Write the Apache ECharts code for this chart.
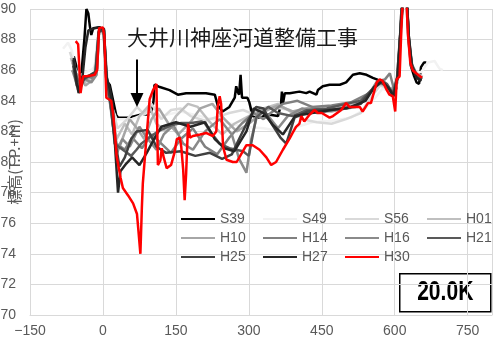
<!DOCTYPE html>
<html>
<head>
<meta charset="utf-8">
<script src="https://cdn.jsdelivr.net/npm/echarts@6/dist/echarts.min.js"></script>
<style>
  html, body { margin: 0; padding: 0; background: #fff; }
  #chart { width: 500px; height: 347px; }
</style>
</head>
<body>
<div id="chart"></div>
<script>
// survey years (legend order)
const seriesNames = ['S39', 'S49', 'S56', 'H01', 'H10', 'H14', 'H16', 'H21', 'H25', 'H27', 'H30']
const seriesColors = ['#000000', '#f2f2f2', '#d9d9d9', '#bfbfbf', '#a6a6a6', '#808080', '#8a8a8a', '#595959', '#404040', '#262626', '#ff0000']

// cross sections: [distance (m), elevation (T.P.+m)]
const s39 = [[-60,86.9],[-55,86.3],[-51,84.7],[-44,85.9],[-38,88.1],[-34,90.0],[-30,89.7],[-27,88.9],[-24,88.3],[-20,88.75],[-7,88.8],[2,88.6],[7,85.3],[14,85.05],[21,84.0],[27,83.1],[31,82.9],[51,82.9],[65,83.0],[79,83.1],[92,83.1],[99,83.2],[102,83.6],[104,84.0],[106,85.05],[117,84.9],[137,84.7],[154,84.4],[171,84.5],[190,84.5],[212,84.5],[230,84.4],[236,83.7],[246,83.3],[260,83.6],[271,84.2],[274,84.95],[277,84.6],[280,84.4],[283,85.7],[286,84.2],[288,84.3],[297,84.2],[301,83.9],[308,83.0],[320,82.9],[340,83.1],[360,83.0],[366,83.75],[368,84.6],[370,83.8],[374,84.5],[384,84.5],[404,84.6],[418,84.5],[425,84.6],[439,84.4],[442,84.7],[452,84.95],[466,85.05],[487,85.05],[500,85.2],[514,85.7],[528,85.8],[542,85.7],[555,85.5],[563,85.4],[575,85.15],[585,84.7],[595,84.3],[603,84.8],[608,86.0],[613,89.5],[617,91.5],[624,91.5],[628,88.5],[633,86.3],[640,85.6],[645,85.2],[650,85.1],[654,86.2],[660,86.5],[665,86.5]]
const s49 = [[-82,87.4],[-72,87.8],[-64,87.3],[-58,86.2],[-50,85.6],[-40,85.8],[-25,86.0],[-14,86.3],[-9,88.4],[0,88.6],[5,87.5],[10,85.0],[18,83.6],[28,82.8],[60,82.8],[90,83.2],[120,83.0],[160,83.3],[200,83.0],[250,82.6],[290,82.3],[330,82.2],[370,82.0],[400,82.3],[430,82.6],[470,82.7],[510,82.9],[540,83.5],[560,84.2],[575,84.8],[590,84.6],[600,84.4],[606,85.4],[612,88.0],[618,90.8],[624,90.6],[629,87.8],[635,86.4],[645,85.8],[655,85.9],[668,86.5],[682,86.6],[692,86.1],[699,86.0]]
const s56 = [[-68,87.2],[-60,86.4],[-52,85.3],[-42,85.5],[-30,85.4],[-18,85.9],[-10,88.3],[0,88.5],[6,86.5],[12,84.4],[20,83.5],[30,82.2],[50,82.8],[70,83.6],[85,83.1],[100,83.8],[120,82.8],[140,83.4],[160,83.5],[180,83.0],[210,82.7],[240,83.0],[260,83.2],[288,83.4],[320,83.0],[349,83.6],[384,83.4],[410,82.8],[440,82.6],[470,82.5],[500,82.8],[530,83.2],[555,84.4],[570,85.0],[588,84.8],[600,84.5],[607,85.6],[613,88.5],[619,90.8],[625,90.5],[630,87.5],[637,86.2],[648,85.7],[658,85.6]]
const h01 = [[-66,86.8],[-58,86.0],[-50,85.0],[-38,85.2],[-25,85.5],[-15,85.8],[-9,88.5],[1,88.6],[6,86.0],[12,84.3],[20,83.2],[28,81.5],[45,82.5],[60,81.8],[75,83.0],[95,83.7],[110,82.5],[130,82.0],[150,83.0],[175,83.8],[195,83.6],[220,82.6],[245,81.8],[270,82.5],[300,83.0],[330,83.5],[360,83.8],[390,83.2],[420,83.5],[450,83.3],[480,83.6],[520,83.8],[550,84.6],[566,85.1],[580,85.0],[595,84.6],[605,85.5],[612,88.2],[618,91.0],[624,90.8],[629,87.6],[636,86.2],[646,85.6],[656,85.4]]
const h10 = [[-64,86.0],[-56,85.8],[-48,85.6],[-36,85.0],[-24,85.3],[-13,85.9],[-8,88.6],[1,88.7],[7,85.6],[13,84.2],[20,82.5],[28,80.8],[40,81.5],[55,82.8],[70,82.2],[85,81.5],[100,82.8],[115,83.5],[135,82.5],[155,81.8],[180,82.6],[200,83.5],[225,83.8],[250,82.8],[275,82.0],[300,82.5],[330,83.3],[360,83.7],[390,83.3],[430,83.6],[470,83.3],[510,83.6],[545,84.3],[562,85.2],[578,85.3],[592,84.7],[604,85.3],[611,88.0],[617,91.0],[623,91.0],[628,88.0],[634,86.4],[644,85.7],[657,85.5]]
const h14 = [[-62,86.5],[-54,85.4],[-44,85.2],[-34,85.6],[-22,85.5],[-12,86.1],[-8,88.5],[2,88.6],[7,85.2],[14,84.0],[21,82.6],[28,81.2],[45,80.8],[60,81.6],[80,80.9],[100,81.8],[120,81.2],[140,80.6],[160,81.5],[185,82.2],[210,81.0],[235,80.5],[260,81.6],[285,82.5],[310,83.2],[330,82.8],[345,83.2],[370,83.8],[400,84.0],[430,83.6],[470,83.7],[510,83.9],[548,84.5],[565,85.3],[580,85.4],[590,85.8],[598,84.8],[606,85.4],[612,88.5],[618,91.0],[624,91.0],[629,87.8],[635,86.3],[645,85.6],[656,85.5]]
const h16 = [[-63,86.0],[-55,85.2],[-46,85.5],[-36,85.4],[-24,85.2],[-13,85.7],[-8,88.6],[2,88.7],[8,85.0],[15,83.9],[22,82.0],[28,80.5],[40,81.5],[55,81.0],[75,82.3],[90,81.6],[110,80.8],[125,81.8],[145,82.4],[165,81.2],[185,80.8],[210,82.0],[240,82.8],[265,81.8],[280,80.2],[295,79.3],[305,81.5],[320,83.4],[340,83.0],[360,82.2],[380,83.0],[410,83.5],[440,83.2],[480,83.4],[520,83.6],[552,84.6],[568,85.2],[582,85.0],[594,84.4],[604,85.2],[612,88.6],[618,91.0],[624,91.0],[629,87.9],[635,86.2],[646,85.6],[657,85.5]]
const h21 = [[-62,86.7],[-56,85.8],[-48,84.9],[-40,85.4],[-28,85.6],[-16,85.8],[-8,88.6],[2,88.6],[8,85.5],[16,84.2],[24,81.2],[45,80.7],[58,80.4],[69,80.8],[79,81.2],[95,81.6],[113,82.0],[140,82.4],[161,82.55],[182,82.55],[202,82.65],[209,82.55],[223,81.9],[240,81.2],[260,80.9],[288,80.7],[300,80.4],[315,82.9],[340,83.6],[360,83.2],[390,83.0],[420,83.4],[460,83.5],[500,83.8],[530,84.0],[555,84.8],[570,85.3],[584,85.1],[596,84.5],[605,85.5],[612,88.8],[618,91.0],[624,91.0],[629,88.0],[635,86.4],[645,85.7],[655,85.4]]
const h25 = [[-61,86.3],[-54,85.0],[-47,84.8],[-38,85.5],[-26,85.7],[-15,85.9],[-9,88.5],[1,88.7],[8,85.3],[15,84.0],[22,82.0],[34,79.7],[45,80.3],[58,81.5],[69,82.0],[92,82.1],[110,81.0],[130,80.6],[160,80.7],[190,80.4],[220,80.6],[245,80.2],[265,80.5],[280,81.5],[300,82.8],[315,83.6],[330,83.5],[345,82.6],[365,81.6],[377,81.2],[394,82.9],[420,83.3],[460,83.4],[500,83.5],[530,83.8],[556,84.8],[572,85.2],[586,84.9],[597,84.4],[606,85.6],[613,89.0],[618,91.0],[624,91.0],[629,88.2],[636,86.2],[646,85.5],[656,85.4]]
const h27 = [[-60,86.8],[-54,85.2],[-50,84.5],[-42,85.6],[-36,87.5],[-30,88.6],[-22,88.7],[-8,88.8],[2,88.7],[7,85.6],[14,84.8],[20,83.8],[26,80.5],[31,78.0],[36,79.4],[48,79.9],[60,80.3],[75,79.8],[90,80.6],[105,81.5],[120,82.3],[150,82.6],[180,82.3],[210,82.6],[230,81.5],[250,80.9],[270,80.7],[295,82.0],[310,83.5],[330,83.2],[350,82.4],[370,81.8],[395,83.0],[430,83.2],[470,83.4],[510,83.6],[540,84.0],[558,84.9],[574,85.3],[588,84.8],[598,84.3],[606,85.6],[613,89.2],[618,91.2],[624,91.2],[629,88.2],[635,86.3],[645,85.5],[655,85.3]]
const h30 = [[-56,87.9],[-51,87.7],[-46,84.5],[-41,85.6],[-34,85.6],[-24,85.65],[-17,85.7],[-12,86.0],[-8,88.75],[0,88.8],[3,88.2],[7,84.2],[17,84.0],[21,83.1],[24,82.1],[28,80.4],[36,79.0],[41,78.3],[52,77.8],[62,77.3],[70,76.6],[73,75.5],[77,74.0],[80,77.0],[82,78.6],[85,78.7],[87,80.6],[96,84.1],[103,84.7],[110,85.1],[113,79.8],[118,80.1],[121,80.9],[125,80.3],[131,79.6],[140,79.8],[147,80.6],[152,81.5],[158,81.6],[161,81.0],[165,79.5],[168,77.5],[171,79.2],[175,82.5],[179,81.6],[185,81.7],[200,81.8],[212,81.9],[226,81.7],[233,82.0],[236,83.6],[240,84.3],[243,83.8],[247,81.0],[254,80.15],[267,80.0],[275,80.0],[284,80.5],[295,81.1],[308,81.1],[322,80.8],[336,80.3],[346,79.8],[356,80.0],[370,80.8],[384,81.55],[390,81.9],[397,82.3],[404,82.5],[408,83.0],[414,82.65],[425,83.1],[435,83.4],[442,83.2],[450,83.2],[466,82.9],[473,83.0],[490,83.4],[500,83.85],[507,83.6],[528,83.6],[534,83.3],[545,83.85],[551,83.85],[563,85.2],[569,85.4],[575,85.3],[582,84.8],[589,84.4],[596,84.3],[601,83.3],[604,85.4],[610,85.6],[614,89.0],[618,91.5],[623,91.5],[627,88.4],[632,86.5],[637,86.0],[644,85.8],[656,85.5]]
const seriesData = [s39, s49, s56, h01, h10, h14, h16, h21, h25, h27, h30]

// legend columns as laid out in the plot
const legendColumns = [['S39', 'H10', 'H25'], ['S49', 'H14', 'H27'], ['S56', 'H16', 'H30'], ['H01', 'H21']]
const legendLeft = [180, 262, 344, 426]

const xTicks = { min: -150, max: 800, interval: 150 }
const yTicks = { min: 70, max: 90, interval: 2 }

const siteTitle = '大井川神座河道整備工事'
const yName = '標高(T.P.+m)'
// arrow pointing at the works site: shaft from top to bottom, head tip
const arrowShaft = [[70, 86.7], [70, 84.4]]
const arrowHead = [70, 84.05]
const sectionLabel = '20.0K'

const chart = echarts.init(document.getElementById('chart'), null, { renderer: 'canvas' })

const gridColor = '#d9d9d9'
const textColor = '#595959'
const baseFont = 'Liberation Sans, Arial, sans-serif'

const series = seriesNames.map((name, i) => ({
  name,
  type: 'line',
  data: seriesData[i],
  symbol: 'none',
  clip: true,
  lineStyle: { color: seriesColors[i], width: 2.5 },
  itemStyle: { color: seriesColors[i] },
  z: 2 + i,
}))

series[0].markLine = {
  silent: true,
  symbol: ['none', 'none'],
  label: { show: false },
  lineStyle: { color: '#000', width: 2, type: 'solid' },
  data: [[{ coord: arrowShaft[0] }, { coord: arrowShaft[1] }]],
}
series[0].markPoint = {
  silent: true,
  symbol: 'triangle',
  symbolSize: [13, 14],
  symbolRotate: 180,
  itemStyle: { color: '#000' },
  label: { show: false },
  data: [{ coord: arrowHead }],
}

chart.setOption({
  animation: false,
  backgroundColor: '#fff',
  grid: { left: 30, right: 8, top: 9, bottom: 32, containLabel: false, outerBoundsMode: 'none' },
  legend: legendColumns.map((col, i) => ({
    data: col,
    orient: 'vertical',
    left: legendLeft[i],
    top: 212,
    padding: 0,
    itemGap: 5,
    itemWidth: 34,
    itemHeight: 14,
    itemStyle: { opacity: 0 },
    textStyle: { color: textColor, fontSize: 14, fontFamily: baseFont },
  })),
  xAxis: {
    type: 'value',
    min: xTicks.min,
    max: xTicks.max,
    interval: xTicks.interval,
    axisLine: { show: true, lineStyle: { color: gridColor } },
    axisTick: { show: false },
    axisLabel: {
      color: textColor,
      fontSize: 14,
      fontFamily: baseFont,
      margin: 9,
      showMaxLabel: false,
      formatter: (v) => String(v).replace('-', '−'),
    },
    splitLine: { show: true, lineStyle: { color: gridColor } },
  },
  yAxis: [
    {
      type: 'value',
      min: yTicks.min,
      max: yTicks.max,
      interval: yTicks.interval,
      axisLine: { show: true, onZero: true, lineStyle: { color: gridColor } },
      axisTick: { show: false },
      axisLabel: { color: textColor, fontSize: 14, fontFamily: baseFont, margin: 14 },
      splitLine: { show: true, lineStyle: { color: gridColor } },
    },
    {
      // carries only the axis title at the plot's left edge
      type: 'value',
      position: 'left',
      min: yTicks.min,
      max: yTicks.max,
      interval: yTicks.interval,
      name: yName,
      nameLocation: 'middle',
      nameGap: 8,
      nameRotate: 90,
      nameTextStyle: { color: textColor, fontSize: 15, fontFamily: '"Noto Sans CJK JP", sans-serif' },
      axisLine: { show: false, onZero: false },
      axisTick: { show: false },
      axisLabel: { show: false },
      splitLine: { show: false },
    },
  ],
  graphic: [
    {
      type: 'text',
      left: 127,
      top: 27,
      z: 100,
      style: { text: siteTitle, font: '21px "Noto Sans CJK JP", sans-serif', fill: '#1a1a1a' },
    },
    {
      type: 'group',
      left: 399,
      top: 273,
      z: 100,
      children: [
        { type: 'rect', shape: { x: 0, y: 0, width: 91, height: 38 }, style: { fill: '#fff', stroke: '#000', lineWidth: 1.5 } },
        {
          type: 'text',
          x: 45.5,
          y: 19,
          scaleX: 0.78,
          style: { text: sectionLabel, font: 'bold 27px "Liberation Sans", Arial, sans-serif', fill: '#000', align: 'center', verticalAlign: 'middle' },
        },
      ],
    },
  ],
  series,
})
</script>
</body>
</html>
